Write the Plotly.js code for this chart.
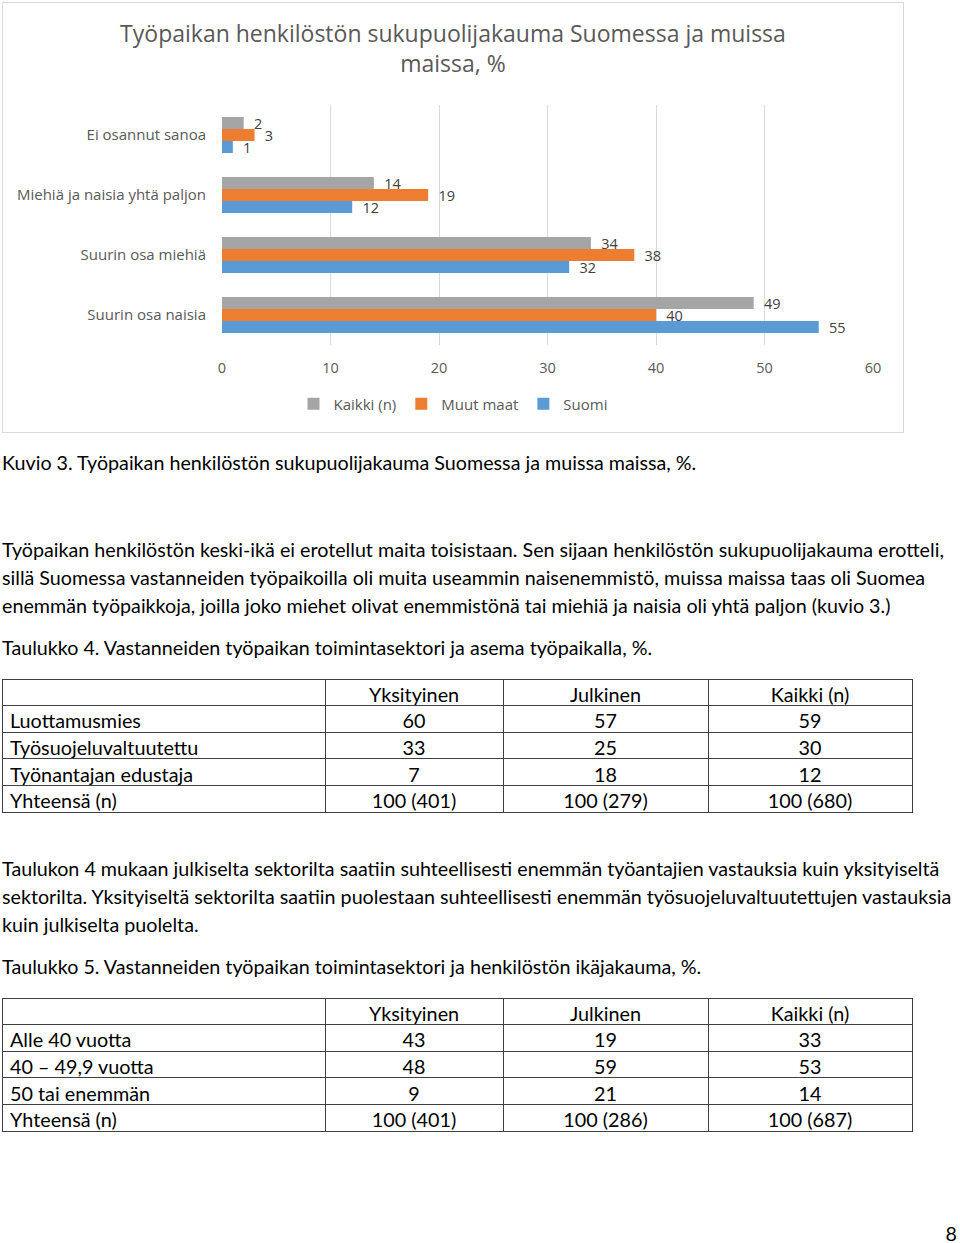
<!DOCTYPE html>
<html>
<head>
<meta charset="utf-8">
<script src="https://cdn.plot.ly/plotly-3.0.1.min.js"></script>
<style>
  html, body { margin: 0; padding: 0; background: #fff; }
  body { width: 960px; height: 1243px; position: relative; overflow: hidden;
         font-family: "Lato", "Liberation Sans", sans-serif; color: #000; }
  .txt { position: absolute; left: 2px; font-size: 19.7px; line-height: 28px; white-space: nowrap; }
  #chart { position: absolute; left: 2px; top: 2px; width: 900px; height: 429px; border: 1px solid #d9d9d9; }
  .tbl { position: absolute; left: 0px; width: 916px; height: 137px; }
</style>
</head>
<body>
<div id="chart"></div>

<div class="txt" style="top:449px;">Kuvio 3. Työpaikan henkilöstön sukupuolijakauma Suomessa ja muissa maissa, %.</div>

<div class="txt" style="top:536px;">Työpaikan henkilöstön keski-ikä ei erotellut maita toisistaan. Sen sijaan henkilöstön sukupuolijakauma erotteli,<br>sillä Suomessa vastanneiden työpaikoilla oli muita useammin naisenemmistö, muissa maissa taas oli Suomea<br>enemmän työpaikkoja, joilla joko miehet olivat enemmistönä tai miehiä ja naisia oli yhtä paljon (kuvio 3.)</div>

<div class="txt" style="top:634px;">Taulukko 4. Vastanneiden työpaikan toimintasektori ja asema työpaikalla, %.</div>

<div id="table4" class="tbl" style="top:677px;"></div>

<div class="txt" style="top:855px;">Taulukon 4 mukaan julkiselta sektorilta saatiin suhteellisesti enemmän työantajien vastauksia kuin yksityiseltä<br>sektorilta. Yksityiseltä sektorilta saatiin puolestaan suhteellisesti enemmän työsuojeluvaltuutettujen vastauksia<br>kuin julkiselta puolelta.</div>

<div class="txt" style="top:953px;">Taulukko 5. Vastanneiden työpaikan toimintasektori ja henkilöstön ikäjakauma, %.</div>

<div id="table5" class="tbl" style="top:996px;"></div>

<div class="txt" style="top:1220px; left:auto; right:3px;">8</div>

<script>
// ---------- Chart data ----------
var categories = ["Suurin osa naisia", "Suurin osa miehiä", "Miehiä ja naisia yhtä paljon", "Ei osannut sanoa"];
var suomi      = [55, 32, 12, 1];
var muutMaat   = [40, 38, 19, 3];
var kaikki     = [49, 34, 14, 2];
var xTicks     = [0, 10, 20, 30, 40, 50, 60];

// ---------- Table data ----------
var tableColumns = ["", "Yksityinen", "Julkinen", "Kaikki (n)"];
var table4Rows = ["Luottamusmies", "Työsuojeluvaltuutettu", "Työnantajan edustaja", "Yhteensä (n)"];
var table4Yksityinen = ["60", "33", "7", "100 (401)"];
var table4Julkinen   = ["57", "25", "18", "100 (279)"];
var table4Kaikki     = ["59", "30", "12", "100 (680)"];

var table5Rows = ["Alle 40 vuotta", "40 – 49,9 vuotta", "50 tai enemmän", "Yhteensä (n)"];
var table5Yksityinen = ["43", "48", "9", "100 (401)"];
var table5Julkinen   = ["19", "59", "21", "100 (286)"];
var table5Kaikki     = ["33", "53", "14", "100 (687)"];

var chartFont = "Open Sans, sans-serif";

function barTrace(name, values, color) {
  return {
    type: "bar", orientation: "h", name: name,
    y: categories, x: values,
    marker: { color: color },
    text: values.map(String),
    texttemplate: "\u2002%{text}",
    textposition: "outside",
    textfont: { family: chartFont, size: 14.5, color: "#404040" },
    constraintext: "none",
    cliponaxis: false, hoverinfo: "none"
  };
}

var traces = [
  barTrace("Suomi", suomi, "#5b9bd5"),
  barTrace("Muut maat", muutMaat, "#ed7d31"),
  barTrace("Kaikki (n)", kaikki, "#a5a5a5")
];

var layout = {
  width: 900, height: 429,
  margin: { l: 219, r: 30, t: 102, b: 87 },
  paper_bgcolor: "#fff", plot_bgcolor: "#fff",
  font: { family: chartFont, color: "#595959" },
  title: {
    text: "Työpaikan henkilöstön sukupuolijakauma Suomessa ja muissa<br>maissa, %",
    font: { family: chartFont, size: 23, color: "#595959" },
    x: 0.5, xanchor: "center", xref: "container",
    y: 0.908, yanchor: "top", yref: "container"
  },
  barmode: "group", bargap: 0.4, bargroupgap: 0,
  xaxis: {
    range: [0, 60], tickvals: xTicks, ticktext: xTicks.map(String),
    showgrid: true, gridcolor: "#d9d9d9", gridwidth: 1,
    zeroline: false, showline: false,
    ticks: "outside", ticklen: 10, tickcolor: "rgba(0,0,0,0)",
    tickfont: { family: chartFont, size: 14.5, color: "#595959" },
    fixedrange: true
  },
  yaxis: {
    type: "category", categoryorder: "array", categoryarray: categories,
    showgrid: false, zeroline: false, showline: false,
    ticks: "outside", ticklen: 12, tickcolor: "rgba(0,0,0,0)",
    tickfont: { family: chartFont, size: 15, color: "#595959" },
    fixedrange: true
  },
  showlegend: true,
  legend: {
    orientation: "h", traceorder: "reversed",
    xref: "container", x: 0.5, xanchor: "center",
    yref: "container", y: 0.065, yanchor: "middle",
    font: { family: chartFont, size: 15, color: "#595959" },
    itemwidth: 30
  }
};

Plotly.newPlot("chart", traces, layout, { staticPlot: true, displayModeBar: false });

// ---------- Tables ----------
var tableFont = "Lato, Liberation Sans, sans-serif";
function makeTable(id, rows, c1, c2, c3) {
  var lineC = "#3f3f3f";
  var trace = {
    type: "table",
    columnwidth: [323, 178, 205, 204],
    header: {
      values: tableColumns,
      align: ["left", "center", "center", "center"],
      height: 26.6,
      line: { color: lineC, width: 1 },
      fill: { color: "#fff" },
      font: { family: tableFont, size: 19.8, color: "#000" }
    },
    cells: {
      values: [rows, c1, c2, c3],
      align: ["left", "center", "center", "center"],
      height: 26.6,
      line: { color: lineC, width: 1 },
      fill: { color: "#fff" },
      font: { family: tableFont, size: 19.8, color: "#000" }
    }
  };
  var lay = {
    width: 916, height: 137,
    margin: { l: 2, r: 4, t: 2, b: 0 },
    paper_bgcolor: "rgba(0,0,0,0)"
  };
  Plotly.newPlot(id, [trace], lay, { staticPlot: true, displayModeBar: false });
}
makeTable("table4", table4Rows, table4Yksityinen, table4Julkinen, table4Kaikki);
makeTable("table5", table5Rows, table5Yksityinen, table5Julkinen, table5Kaikki);
</script>
</body>
</html>
